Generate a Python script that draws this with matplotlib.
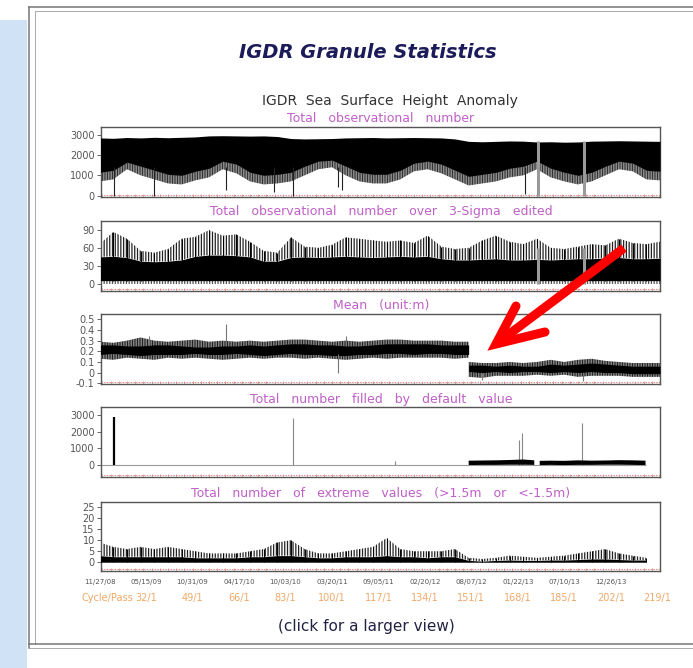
import numpy as np
import matplotlib
matplotlib.use("Agg")
import matplotlib.pyplot as plt
from matplotlib.lines import Line2D
from matplotlib.patches import Rectangle

plt.rcParams["hatch.linewidth"] = 0.9

W, H = 693, 668

# cycle grid used for the envelopes (every 5 cycles)
env_c = np.arange(15, 221, 5)

# panel 1: total observational number
p1_top = [2850, 2830, 2870, 2850, 2880, 2860, 2880, 2900, 2950, 2960, 2950, 2940, 2950, 2920,
          2820, 2800, 2810, 2820, 2850, 2860, 2870, 2850, 2860, 2870, 2860, 2850, 2800, 2680,
          2660, 2680, 2700, 2690, 2650, 2660, 2640, 2650, 2690, 2700, 2710, 2700, 2690, 2680]
p1_core_low = [1150, 1250, 1650, 1450, 1250, 1050, 1000, 1200, 1350, 1700, 1550, 1150, 1000, 1050,
               1150, 1450, 1700, 1750, 1450, 1150, 1050, 1050, 1250, 1600, 1700, 1550, 1250, 950,
               1050, 1150, 1350, 1450, 1700, 1350, 1150, 1000, 1150, 1450, 1700, 1600, 1250, 1200]
p1_low = [700, 800, 1300, 1000, 800, 600, 550, 750, 900, 1300, 1100, 700, 550, 600,
          700, 1000, 1300, 1400, 1000, 700, 600, 600, 800, 1200, 1300, 1100, 800, 500,
          600, 700, 900, 1000, 1300, 900, 700, 550, 700, 1000, 1300, 1200, 800, 750]
p1_dip_c = [20.2, 34.9, 61.2, 78.9, 85.7, 102.1, 103.8, 170.6]
p1_dip_v = [0, 0, 300, 200, 0, 400, 300, 100]
gap_c = [175.4, 192.1]

# panel 2: number over 3-sigma edited
p2_core_low = 6
p2_core_top = [45, 46, 44, 38, 37, 38, 40, 46, 48, 48, 47, 45, 38, 38,
               44, 45, 44, 45, 46, 45, 44, 45, 46, 45, 46, 42, 40, 40,
               41, 42, 40, 40, 41, 40, 41, 42, 42, 43, 44, 42, 42, 43]
p2_spike = [66, 86, 75, 55, 52, 58, 75, 78, 89, 80, 82, 70, 55, 52,
            77, 62, 60, 65, 77, 75, 72, 70, 72, 68, 80, 62, 58, 60,
            72, 80, 70, 66, 75, 60, 58, 62, 66, 64, 75, 68, 66, 70]

# panel 3: mean (m), before and after the jump at cycle 150
p3a_c = np.arange(15, 151, 5)
p3a_top = [0.29, 0.28, 0.30, 0.33, 0.30, 0.29, 0.30, 0.31, 0.29, 0.30, 0.29, 0.30, 0.29, 0.30,
           0.31, 0.31, 0.30, 0.29, 0.30, 0.29, 0.30, 0.31, 0.31, 0.30, 0.30, 0.30, 0.29, 0.29]
p3a_core_top = [0.26, 0.26, 0.25, 0.25, 0.26, 0.26, 0.25, 0.24, 0.24, 0.25, 0.25, 0.26, 0.25, 0.26,
                0.27, 0.27, 0.26, 0.26, 0.25, 0.25, 0.26, 0.27, 0.27, 0.27, 0.27, 0.26, 0.26, 0.26]
p3a_core_low = [0.17, 0.18, 0.17, 0.16, 0.17, 0.17, 0.17, 0.18, 0.17, 0.17, 0.18, 0.17, 0.16, 0.17,
                0.18, 0.17, 0.17, 0.16, 0.16, 0.17, 0.17, 0.18, 0.18, 0.17, 0.18, 0.18, 0.17, 0.17]
p3a_low = [0.13, 0.12, 0.14, 0.13, 0.12, 0.14, 0.13, 0.14, 0.13, 0.12, 0.13, 0.14, 0.13, 0.14,
           0.14, 0.13, 0.14, 0.13, 0.12, 0.13, 0.14, 0.13, 0.14, 0.14, 0.14, 0.14, 0.13, 0.14]
p3b_c = np.arange(150, 221, 5)
p3b_top = [0.10, 0.09, 0.09, 0.10, 0.09, 0.10, 0.12, 0.10, 0.12, 0.13, 0.11, 0.10, 0.09, 0.09, 0.09]
p3b_core_top = [0.07, 0.07, 0.06, 0.07, 0.06, 0.06, 0.08, 0.07, 0.08, 0.09, 0.08, 0.07, 0.06, 0.06, 0.06]
p3b_core_low = [0.01, 0.00, 0.01, 0.00, 0.01, 0.01, 0.00, 0.01, 0.00, 0.01, 0.00, 0.00, -0.01, -0.01, -0.01]
p3b_low = [-0.04, -0.05, -0.03, -0.03, -0.03, -0.02, -0.03, -0.02, -0.04, -0.03, -0.03, -0.03, -0.04, -0.04, -0.04]
p3_spike_c = [33, 61.2, 102.1, 105, 155, 192]
p3_spike_from = [0.26, 0.26, 0.17, 0.26, 0.0, 0.0]
p3_spike_to = [0.34, 0.46, 0.0, 0.34, -0.07, -0.08]

# panel 4: number filled by default value
p4_spike_c = [20.2, 85.7, 123, 168.5, 169.6, 191.4]
p4_spike_v = [2850, 2800, 250, 1500, 1900, 2500]
p4_band_c = [150, 155, 160, 165, 170, 174, 175, 176, 180, 185, 190, 195, 200, 205, 210, 214.7]
p4_band_top = [280, 290, 300, 320, 350, 300, np.nan, 270, 280, 270, 300, 280, 290, 310, 300, 280]
p4_band_low = [20, 30, 30, 40, 40, 30, np.nan, 20, 30, 20, 30, 30, 40, 40, 30, 20]

# panel 5: number of extreme values
p5_c = np.arange(15, 216, 5)
p5_core_top = [3, 2.5, 2.5, 2.5, 2.5, 2.5, 2.5, 2, 2, 2, 2, 2.5, 2.5, 3, 3, 2.5, 2, 2, 2.5, 2.5, 2.5,
               3, 2.5, 2.5, 2, 2.5, 2.5, 0.8, 0.5, 0.8, 1, 0.8, 0.8, 1, 1, 1.2, 1.5, 1.5, 1.2, 1, 1]
p5_spike = [9, 7, 6, 7, 6, 7, 6, 5, 4, 4, 4, 5, 6, 9, 10, 6, 4, 4, 5, 6, 7,
            11, 6, 5, 5, 5, 6, 2, 1.5, 2, 3, 2.5, 2, 2.5, 3, 4, 5, 6, 4, 3, 2]

date_c = [15, 32, 49, 66, 83, 100, 117, 134, 151, 168, 185, 202]
date_labels = ["11/27/08", "05/15/09", "10/31/09", "04/17/10", "10/03/10", "03/20/11",
               "09/05/11", "02/20/12", "08/07/12", "01/22/13", "07/10/13", "12/26/13"]
cycle_c = [32, 49, 66, 83, 100, 117, 134, 151, 168, 185, 202, 219]
cycle_labels = [f"{c}/1" for c in cycle_c]

panel_titles = ["Total   observational   number",
                "Total   observational   number   over   3-Sigma   edited",
                "Mean   (unit:m)",
                "Total   number   filled   by   default   value",
                "Total   number   of   extreme   values   (>1.5m   or   <-1.5m)"]

fig = plt.figure(figsize=(W / 100, H / 100), dpi=100)


def px_axes(l, t, r, b, **kw):
    return fig.add_axes([l / W, 1 - b / H, (r - l) / W, (b - t) / H], **kw)


def comb(ax, x, y1, y2, color="black", dense="||||||"):
    # sparse part of the cloud: vertical hatching instead of a flat fill
    ax.fill_between(x, y1, y2, facecolor="none", edgecolor=color, hatch=dense, lw=0, zorder=2)


# page background, borders
bg = px_axes(0, 0, W, H, zorder=-5)
bg.set_xlim(0, W)
bg.set_ylim(H, 0)
bg.axis("off")
bg.add_patch(Rectangle((0, 20), 27, H - 20, color="#cfe2f6", lw=0))
bg.plot([29, 29], [7, 648], color="#777777", lw=1.1)
bg.plot([35, 35], [11, 644], color="#aaaaaa", lw=0.7)
bg.plot([29, W], [7, 7], color="#777777", lw=1.1)
bg.plot([35, W], [11, 11], color="#aaaaaa", lw=0.7)
bg.plot([29, W], [644, 644], color="#777777", lw=1.1)
bg.plot([29, W], [648, 648], color="#aaaaaa", lw=0.7)

bg.text(368, 52, "IGDR Granule Statistics", ha="center", va="center", fontsize=14,
        fontweight="bold", fontstyle="italic", color="#1b1b5a")
bg.text(390, 101, "IGDR  Sea  Surface  Height  Anomaly", ha="center", va="center",
        fontsize=10, color="#333333")
bg.text(366, 627, "(click for a larger view)", ha="center", va="center", fontsize=11,
        color="#222244")

frames = [(127, 197), (221, 291), (314, 384), (407, 477), (502, 571)]
title_y = [119, 212, 306, 399, 493]
for ty, t in zip(title_y, panel_titles):
    bg.text(381, ty, t, ha="center", va="center", fontsize=9, color="#c060c8")

ylims = [(-70, 3390), (-11, 104), (-0.107, 0.55), (-686, 3455), (-4, 27.4)]
yticks = [[0, 1000, 2000, 3000], [0, 30, 60, 90],
          [-0.1, 0, 0.1, 0.2, 0.3, 0.4, 0.5], [0, 1000, 2000, 3000], [0, 5, 10, 15, 20, 25]]
ylabels = [["0", "1000", "2000", "3000"], ["0", "30", "60", "90"],
           ["-0.1", "0", "0.1", "0.2", "0.3", "0.4", "0.5"], ["0", "1000", "2000", "3000"],
           ["0", "5", "10", "15", "20", "25"]]

axs = []
for (t, b), yl, yt, ylab in zip(frames, ylims, yticks, ylabels):
    ax = px_axes(101, t, 660, b)
    ax.set_xlim(15.5, 220)
    ax.set_ylim(*yl)
    ax.set_yticks(yt, ylab)
    ax.set_xticks([])
    ax.set_xticks(np.arange(16, 220, 3), minor=True)
    ax.tick_params(axis="y", direction="out", length=3, width=0.7, color="#666666",
                   labelsize=7, labelcolor="#555555", pad=1.5)
    ax.tick_params(axis="x", which="minor", direction="in", length=2.5, width=0.6,
                   color="#e89090")
    for s in ax.spines.values():
        s.set_color("#555555")
        s.set_linewidth(1.0)
    ax.plot([0, 1], [0.035, 0.035], transform=ax.transAxes, color="#e08a8a", lw=0.8,
            ls=(0, (1.2, 1.2)), zorder=1)
    axs.append(ax)

ax1, ax2, ax3, ax4, ax5 = axs

# panel 1
comb(ax1, env_c, p1_low, p1_core_low, color="#333333", dense="||||||||||")
ax1.fill_between(env_c, p1_core_low, p1_top, color="black", lw=0, zorder=3)
ax1.vlines(p1_dip_c, p1_dip_v, 1400, color="#222222", lw=0.8, zorder=3)
ax1.vlines(gap_c, 0, 2700, color="#9a9a9a", lw=2.2, zorder=4)

# panel 2
comb(ax2, env_c, 0, p2_core_low, color="#555555")
comb(ax2, env_c, p2_core_top, p2_spike, color="#222222", dense="||||||")
ax2.vlines(env_c, p2_core_low, p2_spike, color="black", lw=0.7, zorder=3)
ax2.fill_between(env_c, p2_core_low, p2_core_top, color="black", lw=0, zorder=3)
ax2.vlines(gap_c, 0, 60, color="#9a9a9a", lw=2.2, zorder=4)

# panel 3
comb(ax3, p3a_c, p3a_low, p3a_top, color="#222222", dense="||||||||||")
ax3.fill_between(p3a_c, p3a_core_low, p3a_core_top, color="black", lw=0, zorder=3)
comb(ax3, p3b_c, p3b_low, p3b_top, color="#222222", dense="||||||||||")
ax3.fill_between(p3b_c, p3b_core_low, p3b_core_top, color="black", lw=0, zorder=3)
ax3.vlines(p3_spike_c, p3_spike_from, p3_spike_to, color="#777777", lw=0.8, zorder=3)

# panel 4
ax4.hlines(0, 15.5, 214.7, color="#9a9a9a", lw=0.8, zorder=2)
ax4.vlines(p4_spike_c[0], 0, p4_spike_v[0], color="black", lw=1.6, zorder=3)
ax4.vlines(p4_spike_c[1:], 0, p4_spike_v[1:], color="#888888", lw=0.8, zorder=3)
ax4.fill_between(p4_band_c, p4_band_low, p4_band_top, color="black", lw=0, zorder=3)

# panel 5
comb(ax5, p5_c, p5_core_top, p5_spike, color="#222222", dense="||||||")
ax5.vlines(p5_c, 0, p5_spike, color="black", lw=0.7, zorder=3)
ax5.fill_between(p5_c, 0, p5_core_top, color="black", lw=0, zorder=3)

# x labels under the last panel
for c, lab in zip(date_c, date_labels):
    ax5.annotate(lab, xy=(c, 0), xycoords=("data", "axes fraction"), xytext=(0, -8),
                 textcoords="offset points", ha="center", va="center", fontsize=5,
                 color="#555555", annotation_clip=False)
for c, lab in zip(cycle_c, cycle_labels):
    ax5.annotate(lab, xy=(c, 0), xycoords=("data", "axes fraction"), xytext=(0, -19.5),
                 textcoords="offset points", ha="center", va="center", fontsize=7,
                 color="#f0a868", annotation_clip=False)
ax5.annotate("Cycle/Pass", xy=(cycle_c[0], 0), xycoords=("data", "axes fraction"),
             xytext=(-9, -19.5), textcoords="offset points", ha="right", va="center",
             fontsize=7, color="#f0a868", annotation_clip=False)

# red arrow overlay
top = px_axes(0, 0, W, H, zorder=10)
top.set_xlim(0, W)
top.set_ylim(H, 0)
top.axis("off")
top.patch.set_alpha(0)
top.add_line(Line2D([496, 624], [344, 248], color="#ff0000", lw=6.5, solid_capstyle="butt"))
top.add_line(Line2D([516, 496, 545], [306, 344, 332], color="#ff0000", lw=6.5,
                    solid_joinstyle="miter", solid_capstyle="round"))

fig.savefig("out.png", dpi=100)
